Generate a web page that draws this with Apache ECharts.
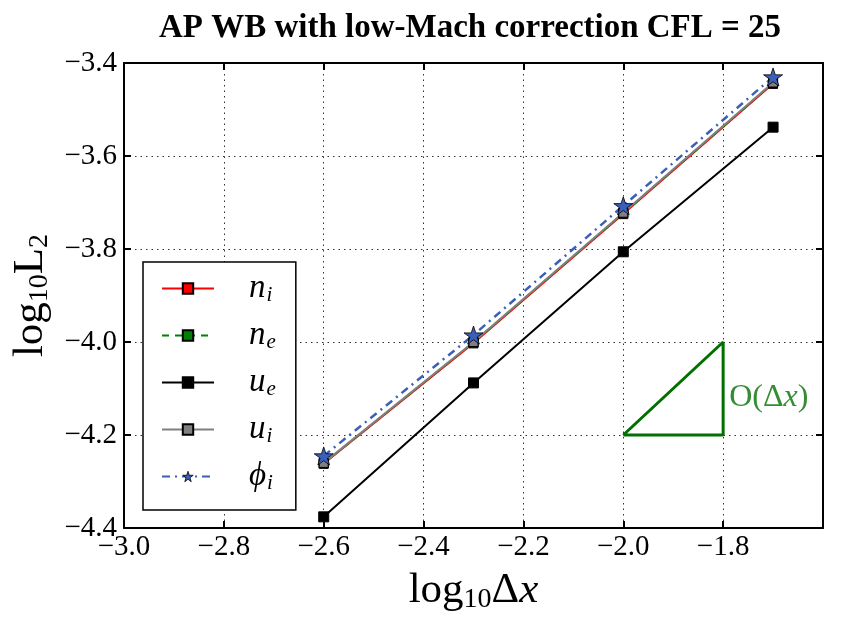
<!DOCTYPE html>
<html>
<head>
<meta charset="utf-8">
<script src="https://cdn.jsdelivr.net/npm/echarts@6/dist/echarts.min.js"></script>
<style>
  html, body { margin: 0; padding: 0; background: #fff; }
  #chart { width: 867px; height: 626px; }
</style>
</head>
<body>
<div id="chart"></div>
<script>
// grid sizes log10(dx)
const dx = [-2.6, -2.3, -2.0, -1.7];
// log10 L2 errors
const nI = [-4.262, -4.003, -3.725, -3.445];
const nE = [-4.261, -4.001, -3.723, -3.443];
const uE = [-4.376, -4.088, -3.806, -3.538];
const uI = [-4.260, -4.000, -3.722, -3.442];
const phiI = [-4.245, -3.985, -3.707, -3.430];
// reference slope triangle
const triX = [-2.0, -1.8, -1.8, -2.0];
const triY = [-4.2, -4.0, -4.2, -4.2];

const serif = 'Liberation Serif';
const star = 'path://M50 0 L61.23 34.55 L97.55 34.55 L68.17 55.9 L79.39 90.45 L50 69.1 L20.61 90.45 L31.83 55.9 L2.45 34.55 L38.77 34.55 Z';
const blue = '#3b5fb8';

function pairs(xs, ys) {
    return xs.map((x, i) => [x, ys[i]]);
}

function fmt(v) {
    if (v > -1.65) return '';
    return v.toFixed(1).replace('-', '\u2212');
}

const legendNames = {
    'n_i': '{m|n}{s|i}',
    'n_e': '{m|n}{s|e}',
    'u_e': '{m|u}{s|e}',
    'u_i': '{m|u}{s|i}',
    'phi_i': '{m|\u03d5}{s|i}'
};

const tickStyle = { show: true, inside: true, length: 7, lineStyle: { color: '#000', width: 2 } };
const lineAxis = { show: true, lineStyle: { color: '#000', width: 2 } };
const gridLine = { show: true, lineStyle: { color: '#333', type: [1.5, 4], width: 1 } };

function sq(color) {
    return { color: color, borderColor: '#000', borderWidth: 1 };
}

const myChart = echarts.init(document.getElementById('chart'));
const option = {
    backgroundColor: '#fff',
    animation: false,
    title: {
        text: 'AP WB with low-Mach correction CFL = 25',
        left: 465,
        top: 7,
        textAlign: 'center',
        textStyle: { fontFamily: serif, fontWeight: 'bold', fontSize: 33, color: '#000' }
    },
    grid: { left: 124, right: 44, top: 63, bottom: 98 },
    xAxis: [{
        type: 'value', min: -3.0, max: -1.6, interval: 0.2,
        axisLine: lineAxis, axisTick: tickStyle, splitLine: gridLine,
        axisLabel: { formatter: fmt, fontFamily: serif, fontSize: 29, color: '#000', margin: 5 },
        name: '{a|log}{b|10}{a|\u0394}{i|x}',
        nameLocation: 'middle', nameGap: 40,
        nameTextStyle: {
            rich: {
                a: { fontFamily: serif, fontSize: 43, color: '#000' },
                b: { fontFamily: serif, fontSize: 28, color: '#000', padding: [18, 0, 0, 0] },
                i: { fontFamily: serif, fontSize: 43, fontStyle: 'italic', color: '#000' }
            }
        }
    }, {
        type: 'value', position: 'top', min: -3.0, max: -1.6, interval: 0.2,
        axisLine: lineAxis, axisTick: tickStyle, splitLine: { show: false }, axisLabel: { show: false }
    }],
    yAxis: [{
        type: 'value', min: -4.4, max: -3.4, interval: 0.2,
        axisLine: lineAxis, axisTick: tickStyle, splitLine: gridLine,
        axisLabel: { formatter: fmt, fontFamily: serif, fontSize: 29, color: '#000', margin: 7 },
        name: '{a|log}{b|10}{a|L}{b|2}',
        nameLocation: 'middle', nameGap: 68, nameRotate: 90,
        nameTextStyle: {
            rich: {
                a: { fontFamily: serif, fontSize: 43, color: '#000' },
                b: { fontFamily: serif, fontSize: 28, color: '#000', padding: [18, 0, 0, 0] }
            }
        }
    }, {
        type: 'value', position: 'right', min: -4.4, max: -3.4, interval: 0.2,
        axisLine: lineAxis, axisTick: tickStyle, splitLine: { show: false }, axisLabel: { show: false }
    }],
    legend: {
        orient: 'vertical',
        left: 143, top: 262,
        backgroundColor: '#fff',
        borderColor: '#000', borderWidth: 1.5, borderRadius: 0,
        padding: [10, 20, 16, 18],
        itemWidth: 52, itemHeight: 13, itemGap: 13,
        data: [
            { name: 'n_i' },
            { name: 'n_e' },
            { name: 'u_e' },
            { name: 'u_i' },
            { name: 'phi_i', itemStyle: { color: blue, borderColor: '#000', borderWidth: 0.8 } }
        ],
        formatter: name => legendNames[name],
        textStyle: {
            padding: [0, 0, 0, 30],
            rich: {
                m: { fontFamily: serif, fontStyle: 'italic', fontSize: 33, color: '#000', lineHeight: 34 },
                s: { fontFamily: serif, fontStyle: 'italic', fontSize: 21, color: '#000', padding: [14, 0, 0, 1] }
            }
        }
    },
    series: [{
        name: 'n_i', type: 'line', data: pairs(dx, nI),
        lineStyle: { color: '#ff0000', width: 1.5 },
        symbol: 'rect', symbolSize: 9, itemStyle: sq('#ff0000')
    }, {
        name: 'n_e', type: 'line', data: pairs(dx, nE),
        lineStyle: { color: '#008000', width: 2, type: [7, 6] },
        symbol: 'rect', symbolSize: 9, itemStyle: sq('#008000')
    }, {
        name: 'u_e', type: 'line', data: pairs(dx, uE),
        lineStyle: { color: '#000', width: 2 },
        symbol: 'rect', symbolSize: 10, itemStyle: sq('#000')
    }, {
        name: 'u_i', type: 'line', data: pairs(dx, uI),
        lineStyle: { color: '#808080', width: 2 },
        symbol: 'rect', symbolSize: 9, itemStyle: sq('#808080')
    }, {
        name: 'phi_i', type: 'line', data: pairs(dx, phiI),
        lineStyle: { color: blue, width: 2.5, type: [8, 5, 2, 5] },
        symbol: star, symbolSize: 19, symbolKeepAspect: true,
        itemStyle: { color: blue, borderColor: '#000', borderWidth: 0.8 }
    }, {
        name: 'slope', type: 'line', data: pairs(triX, triY),
        lineStyle: { color: '#007000', width: 3 },
        symbol: 'none', silent: true
    }, {
        name: 'slopeLabel', type: 'scatter', data: [[-1.8, -4.12]],
        symbolSize: 0, silent: true,
        label: {
            show: true, position: 'right', distance: 6,
            formatter: '{a|O(\u0394}{i|x}{a|)}',
            rich: {
                a: { fontFamily: serif, fontSize: 32, color: '#007000' },
                i: { fontFamily: serif, fontSize: 32, fontStyle: 'italic', color: '#007000' }
            }
        }
    }]
};
myChart.setOption(option);
</script>
</body>
</html>
